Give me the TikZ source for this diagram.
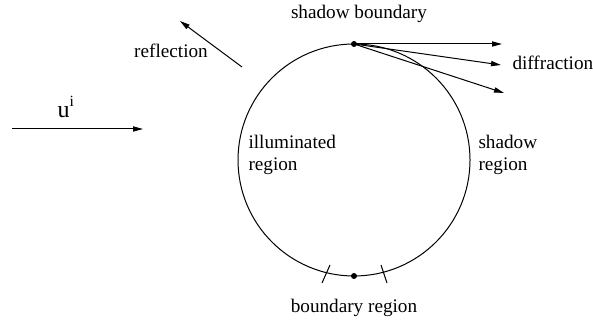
\documentclass[tikz,border=0pt]{standalone}
\usepackage{fontspec}
\setmainfont{Liberation Serif}
\usetikzlibrary{arrows.meta}
\begin{document}
\begin{tikzpicture}[x=0.5pt,y=-0.5pt,
  line width=0.5pt,
  lbl/.style={inner sep=0pt,font=\fontsize{9.6}{11}\selectfont},
  arr/.style={-{Triangle[length=5pt,width=2.6pt]}},
  dotnode/.style={circle,fill=black,inner sep=0pt,minimum size=3pt}]
\useasboundingbox (0,0) rectangle (593,324);
% circle
\node[draw,circle,minimum size=116pt,inner sep=0pt] (circ) at (354,160) {};
\node[dotnode] (sb) at (354,44) {};
\node[dotnode] (br) at (354,276) {};
% diffraction arrows
\coordinate (d1) at (502,44);
\coordinate (d2) at (501,65);
\coordinate (d3) at (504,93);
\draw[arr] (sb.center) -- (d1);
\draw[arr] (sb.center) -- (d2);
\draw[arr] (sb.center) -- (d3);
% reflection
\coordinate (r0) at (242,67);
\coordinate (r1) at (180,21);
\draw[arr] (r0) -- (r1);
% incident
\coordinate (i0) at (12,129);
\coordinate (i1) at (143,129);
\draw[arr] (i0) -- (i1);
% ticks
\coordinate (t1a) at (330,265); \coordinate (t1b) at (322,283);
\coordinate (t2a) at (381,265); \coordinate (t2b) at (387,283);
\draw (t1a) -- (t1b);
\draw (t2a) -- (t2b);
% labels
\node[lbl] (tsb) at (359,14) {shadow boundary};
\node[lbl] (tref) at (171,51) {reflection};
\node[lbl,anchor=west] (tdif) at (512,63) {diffraction};
\node[inner sep=0pt,anchor=base west] (tui) at (57,118) {\fontsize{12}{14}\selectfont u\raisebox{5.6pt}{\fontsize{7.8}{9}\selectfont i}};
\node[lbl,anchor=west,align=left] (till) at (248,155) {illuminated\\ region};
\node[lbl,anchor=west,align=left] (tsh) at (478,155) {shadow\\region};
\node[lbl] (tbr) at (354,308) {boundary region};
\end{tikzpicture}
\end{document}
